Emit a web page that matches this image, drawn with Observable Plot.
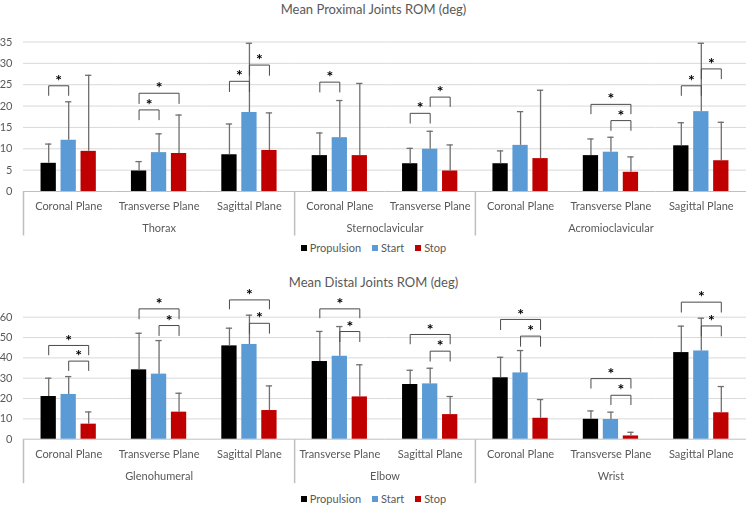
<!DOCTYPE html>
<html>
<head>
<meta charset="utf-8">
<script src="https://cdn.jsdelivr.net/npm/d3@7"></script>
<script src="https://cdn.jsdelivr.net/npm/@observablehq/plot@0.6"></script>
<style>
  body { margin: 0; background: #fff; }
  #wrap { position: relative; width: 747px; height: 508px; overflow: hidden; font-family: Lato, "Open Sans", sans-serif; color: #595959; }
  .title { position: absolute; left: 0; width: 747px; text-align: center; font-size: 13px; line-height: 16px; }
  .chart { position: absolute; left: 0; }
  .chart svg { will-change: transform; }
  .legend { position: absolute; left: 0; width: 747px; display: flex; justify-content: center; gap: 11px; font-size: 11px; line-height: 14px; }
  .legend span.item { display: inline-flex; align-items: center; gap: 3px; }
  .legend span.sw { display: inline-block; width: 6px; height: 6px; }
</style>
</head>
<body>
<div id="wrap">
  <div class="title" id="t1" style="top:1px"></div>
  <div class="chart" id="c1" style="top:18px"></div>
  <div class="legend" id="l1" style="top:241px"></div>
  <div class="title" id="t2" style="top:274px"></div>
  <div class="chart" id="c2" style="top:290px"></div>
  <div class="legend" id="l2" style="top:492px"></div>
</div>
<script>
const series = ["Propulsion", "Start", "Stop"];
const seriesColors = ["#000000", "#5b9bd5", "#c00000"];

// ---- Proximal joints ----
const proxTitle = "Mean Proximal Joints ROM (deg)";
const proxJoints = ["Thorax", "Thorax", "Thorax", "Sternoclavicular", "Sternoclavicular", "Acromioclavicular", "Acromioclavicular", "Acromioclavicular"];
const proxPlanes = ["Coronal Plane", "Transverse Plane", "Sagittal Plane", "Coronal Plane", "Transverse Plane", "Coronal Plane", "Transverse Plane", "Sagittal Plane"];
const proxPropulsion = [6.6, 4.8, 8.6, 8.4, 6.5, 6.5, 8.4, 10.7];
const proxStart      = [12.0, 9.1, 18.5, 12.6, 9.9, 10.8, 9.2, 18.7];
const proxStop       = [9.4, 8.9, 9.6, 8.4, 4.8, 7.7, 4.5, 7.2];
const proxPropulsionSD = [4.5, 2.2, 7.2, 5.3, 3.6, 3.0, 3.9, 5.4];
const proxStartSD      = [9.0, 4.4, 16.2, 8.7, 4.2, 7.9, 3.5, 16.0];
const proxStopSD       = [17.8, 9.0, 8.8, 16.9, 6.1, 16.0, 3.6, 9.0];
const proxTicks = [0, 5, 10, 15, 20, 25, 30, 35];
// [subgroup index, from, to, bracket top, leg bottom]
const proxBrackets = [
  [0, "Propulsion", "Start", 24.75, 22.5],
  [1, "Propulsion", "Start", 19.1, 16.8],
  [1, "Propulsion", "Stop", 23.0, 20.6],
  [2, "Propulsion", "Start", 25.8, 23.4],
  [2, "Start", "Stop", 29.6, 27.2],
  [3, "Propulsion", "Start", 25.6, 23.3],
  [4, "Propulsion", "Start", 18.3, 16.0],
  [4, "Start", "Stop", 22.1, 19.9],
  [6, "Propulsion", "Stop", 20.4, 18.2],
  [6, "Start", "Stop", 16.6, 14.3],
  [7, "Propulsion", "Start", 24.75, 22.5],
  [7, "Start", "Stop", 28.7, 26.4]
];

// ---- Distal joints ----
const distTitle = "Mean Distal Joints ROM (deg)";
const distJoints = ["Glenohumeral", "Glenohumeral", "Glenohumeral", "Elbow", "Elbow", "Wrist", "Wrist", "Wrist"];
const distPlanes = ["Coronal Plane", "Transverse Plane", "Sagittal Plane", "Transverse Plane", "Sagittal Plane", "Coronal Plane", "Transverse Plane", "Sagittal Plane"];
const distPropulsion = [21.0, 34.1, 45.9, 38.2, 26.9, 30.2, 9.8, 42.6];
const distStart      = [22.0, 32.0, 46.6, 40.8, 27.2, 32.6, 9.7, 43.4];
const distStop       = [7.4, 13.3, 14.1, 20.8, 12.1, 10.3, 1.6, 13.0];
const distPropulsionSD = [9.0, 18.0, 8.7, 14.8, 7.0, 10.1, 4.1, 13.0];
const distStartSD      = [8.8, 16.5, 14.4, 14.6, 7.7, 11.0, 3.6, 16.1];
const distStopSD       = [6.0, 9.3, 12.1, 15.8, 8.9, 9.2, 1.8, 12.9];
const distTicks = [0, 10, 20, 30, 40, 50, 60];
const distBrackets = [
  [0, "Propulsion", "Stop", 46.1, 41.5],
  [0, "Start", "Stop", 38.4, 33.8],
  [1, "Propulsion", "Stop", 64.1, 59.2],
  [1, "Start", "Stop", 55.9, 51.0],
  [2, "Propulsion", "Stop", 68.5, 64.1],
  [2, "Start", "Stop", 57.0, 52.1],
  [3, "Propulsion", "Stop", 64.1, 59.7],
  [3, "Start", "Stop", 52.95, 48.0],
  [4, "Propulsion", "Stop", 51.5, 46.9],
  [4, "Start", "Stop", 43.3, 38.4],
  [5, "Propulsion", "Stop", 58.9, 53.9],
  [5, "Start", "Stop", 50.7, 45.7],
  [6, "Propulsion", "Stop", 29.8, 25.1],
  [6, "Start", "Stop", 21.6, 17.0],
  [7, "Propulsion", "Stop", 67.4, 62.5],
  [7, "Start", "Stop", 55.7, 50.8]
];

const FONT = "Lato, 'Open Sans', sans-serif";
const SEP_LEN = 44;
const sepSymbol = {draw(ctx) { ctx.moveTo(0, 0); ctx.lineTo(0, SEP_LEN); }};

function makeChart(cfg) {
  const keys = cfg.joints.map((j, i) => `${j}|${cfg.planes[i]}`);
  const rows = [];
  keys.forEach((key, i) => series.forEach((s, k) =>
    rows.push({key, series: s, value: cfg.means[k][i], sd: cfg.sds[k][i]})));
  const subs = keys.map((key, i) => ({key, joint: cfg.joints[i], plane: cfg.planes[i]}));
  const brackets = cfg.brackets.map(([i, from, to, top, bottom], id) =>
    ({id, key: keys[i], from, to, top, bottom, span: series.indexOf(to) - series.indexOf(from)}));
  const bracketPts = brackets.flatMap(b => [
    {id: b.id, key: b.key, x: b.from, y: b.bottom},
    {id: b.id, key: b.key, x: b.from, y: b.top},
    {id: b.id, key: b.key, x: b.to, y: b.top},
    {id: b.id, key: b.key, x: b.to, y: b.bottom}
  ]);
  const groups = d3.groups(subs, d => d.joint);
  const groupStarts = groups.map(([, m]) => m[0].key);
  const oddLabels = [], evenLabels = [];
  groups.forEach(([joint, m]) => {
    const n = m.length;
    if (n % 2) oddLabels.push({key: m[(n - 1) / 2].key, joint});
    else evenLabels.push({key: m[n / 2 - 1].key, joint});
  });

  const yMax = cfg.ticks[cfg.ticks.length - 1];
  const options = {
    width: 747, height: cfg.height,
    marginTop: cfg.marginTop, marginBottom: cfg.marginBottom, marginLeft: 23, marginRight: 1,
    style: {fontFamily: FONT, fontSize: "11px", color: "#595959", overflow: "visible", background: "transparent"},
    fx: {domain: keys, padding: 0, round: false, axis: null},
    x: {domain: series, paddingInner: 0.235, paddingOuter: 0.878, round: false, axis: null},
    y: {domain: [0, yMax], ticks: cfg.ticks, tickSize: 0, tickPadding: 11, label: null, tickFormat: d => d},
    color: {domain: series, range: seriesColors}
  };
  const probe = Plot.plot({...options, marks: [Plot.barY(rows, {fx: "key", x: "series", y: "value"})]});
  const step = probe.scale("x").step;

  const spans = [...new Set(brackets.map(b => b.span))];
  return Plot.plot({
    ...options,
    marks: [
      Plot.ruleY(cfg.ticks.slice(1), {stroke: "#d9d9d9"}),
      Plot.ruleY([0], {stroke: "#bfbfbf"}),
      Plot.dot(groupStarts, {fx: d => d, frameAnchor: "bottom-left", symbol: sepSymbol, r: 3, stroke: "#bfbfbf", fill: "none"}),
      Plot.barY(rows, {fx: "key", x: "series", y: "value", fill: "series"}),
      Plot.ruleX(rows, {fx: "key", x: "series", y1: "value", y2: d => d.value + d.sd, stroke: "#6f6f6f", strokeWidth: 1.3}),
      Plot.tickY(rows, {fx: "key", x: "series", y: d => d.value + d.sd, stroke: "#6f6f6f", strokeWidth: 1.3, insetLeft: 4.5, insetRight: 4.5}),
      Plot.line(bracketPts, {fx: "key", x: "x", y: "y", z: "id", stroke: "#4a4a4a", strokeWidth: 1}),
      ...spans.map(s => Plot.text(brackets.filter(b => b.span === s), {
        fx: "key", x: "from", y: "top", text: () => "*", dx: step * s / 2, dy: -5,
        fontSize: 16, fontWeight: "bold", fill: "#000", lineAnchor: "middle"
      })),
      Plot.text(subs, {fx: "key", text: "plane", frameAnchor: "bottom", textAnchor: "middle", lineAnchor: "middle", dy: 15, fill: "#595959"}),
      Plot.text(oddLabels, {fx: "key", text: "joint", frameAnchor: "bottom", textAnchor: "middle", lineAnchor: "middle", dy: 37, fill: "#595959"}),
      Plot.text(evenLabels, {fx: "key", text: "joint", frameAnchor: "bottom-right", textAnchor: "middle", lineAnchor: "middle", dy: 37, fill: "#595959"})
    ]
  });
}

function legend(el) {
  series.forEach((s, i) => {
    const item = document.createElement("span");
    item.className = "item";
    const sw = document.createElement("span");
    sw.className = "sw";
    sw.style.background = seriesColors[i];
    item.appendChild(sw);
    item.appendChild(document.createTextNode(s));
    el.appendChild(item);
  });
}

document.getElementById("t1").textContent = proxTitle;
document.getElementById("t2").textContent = distTitle;
document.getElementById("c1").appendChild(makeChart({
  joints: proxJoints, planes: proxPlanes,
  means: [proxPropulsion, proxStart, proxStop],
  sds: [proxPropulsionSD, proxStartSD, proxStopSD],
  brackets: proxBrackets, ticks: proxTicks,
  height: 222, marginTop: 23.5, marginBottom: 49
}));
document.getElementById("c2").appendChild(makeChart({
  joints: distJoints, planes: distPlanes,
  means: [distPropulsion, distStart, distStop],
  sds: [distPropulsionSD, distStartSD, distStopSD],
  brackets: distBrackets, ticks: distTicks,
  height: 200, marginTop: 26.7, marginBottom: 51.3
}));
legend(document.getElementById("l1"));
legend(document.getElementById("l2"));
</script>
</body>
</html>
